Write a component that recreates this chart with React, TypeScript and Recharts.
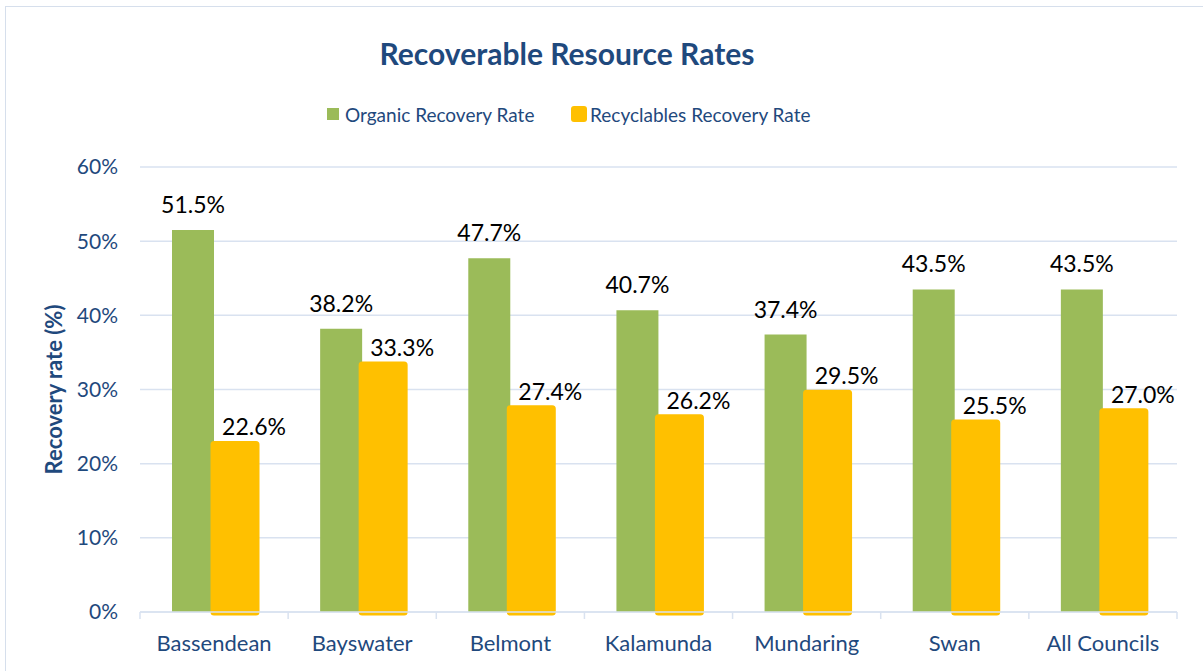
import React from "react";
import { BarChart, Bar, XAxis, YAxis, CartesianGrid, Legend, LabelList } from "recharts";

const councils = ["Bassendean", "Bayswater", "Belmont", "Kalamunda", "Mundaring", "Swan", "All Councils"];
const organicRate = [51.5, 38.2, 47.7, 40.7, 37.4, 43.5, 43.5];
const recyclablesRate = [22.6, 33.3, 27.4, 26.2, 29.5, 25.5, 27.0];
const yTicks = [0, 10, 20, 30, 40, 50, 60];

const chartTitle = "Recoverable Resource Rates";
const yAxisTitle = "Recovery rate (%)";
const organicName = "Organic Recovery Rate";
const recyclablesName = "Recyclables Recovery Rate";

const GREEN = "#9BBB59";
const ORANGE = "#FFC000";
const NAVY = "#1F497D";
const GRID = "#D9E2F0";
const FONT = "Lato, 'Open Sans', sans-serif";
const X_TICK_MARGIN = 17;

const data = councils.map((name, i) => ({
  name,
  organic: organicRate[i],
  recyclables: recyclablesRate[i],
}));

// tick marks sit between categories, like the Excel original
const renderXTick = (props: any) => {
  const { x, y, payload, index, visibleTicksCount } = props;
  const half = payload.offset ?? 74;
  const axisY = y - X_TICK_MARGIN - 6;
  const isLast = index === visibleTicksCount - 1;
  return (
    <g>
      <line x1={x - half} x2={x - half} y1={axisY} y2={axisY + 7} stroke={GRID} strokeWidth={1.5} />
      {isLast && <line x1={x + half} x2={x + half} y1={axisY} y2={axisY + 7} stroke={GRID} strokeWidth={1.5} />}
      <text x={x} y={y} dy="0.71em" textAnchor="middle" fill={NAVY} fontSize={22} fontFamily={FONT}>
        {payload.value}
      </text>
    </g>
  );
};

const renderYLabel = (props: any) => {
  const vb = props.viewBox;
  const cy = vb.y + vb.height / 2;
  return (
    <text
      x={53}
      y={cy}
      transform={`rotate(-90 53 ${cy})`}
      textAnchor="middle"
      dominantBaseline="central"
      fill={NAVY}
      fontSize={22}
      fontWeight="bold"
      fontFamily={FONT}
    >
      {yAxisTitle}
    </text>
  );
};

const makeValueLabel = (dx: number, lift: number) => (props: any) => {
  const vb = props.viewBox ?? props;
  const { x, y, width } = vb;
  return (
    <text
      x={x + width / 2 + dx}
      y={y - lift}
      textAnchor="middle"
      dominantBaseline="central"
      fontSize={23}
      fill="#000"
      fontFamily={FONT}
    >
      {Number(props.value).toFixed(1)}%
    </text>
  );
};

const legendSlots = [
  { box: 327, top: 8, size: 12, radius: 0, text: 345 },
  { box: 571, top: 6, size: 16, radius: 3, text: 590 },
];

const renderLegend = (props: any) => {
  const { payload } = props;
  return (
    <div style={{ position: "relative", width: 1203, height: 30, fontFamily: FONT, fontSize: 19, color: NAVY }}>
      {payload.map((entry: any, i: number) => {
        const s = legendSlots[i];
        return (
          <React.Fragment key={entry.value}>
            <span
              style={{
                position: "absolute",
                left: s.box,
                top: s.top,
                width: s.size,
                height: s.size,
                borderRadius: s.radius,
                background: entry.color,
              }}
            />
            <span style={{ position: "absolute", left: s.text, top: 0, lineHeight: "30px", whiteSpace: "nowrap" }}>
              {entry.value}
            </span>
          </React.Fragment>
        );
      })}
    </div>
  );
};

export default function App() {
  return (
    <div
      style={{
        position: "absolute",
        left: 0,
        top: 0,
        width: 1203,
        height: 671,
        overflow: "hidden",
        background: "#fff",
        fontFamily: FONT,
      }}
    >
      <div
        style={{
          position: "absolute",
          left: 5,
          top: 6,
          width: 1400,
          height: 900,
          border: "1.5px solid #D6DFEC",
        }}
      />
      <div
        style={{
          position: "absolute",
          left: 0,
          top: 30,
          width: 1134,
          textAlign: "center",
          fontSize: 30,
          fontWeight: "bold",
          lineHeight: "46px",
          color: NAVY,
        }}
      >
        {chartTitle}
      </div>
      <BarChart
        width={1203}
        height={671}
        data={data}
        margin={{ top: 167, right: 26, bottom: 0, left: 0 }}
        barSize={42}
        barGap={0}
      >
        <CartesianGrid vertical={false} stroke={GRID} strokeWidth={1.5} />
        <XAxis
          dataKey="name"
          height={59}
          axisLine={{ stroke: GRID, strokeWidth: 1.5 }}
          tickLine={false}
          tickMargin={X_TICK_MARGIN}
          interval={0}
          tick={renderXTick}
        />
        <YAxis
          width={140}
          domain={[0, 60]}
          ticks={yTicks}
          axisLine={false}
          tickLine={false}
          tickMargin={16}
          tickFormatter={(v: number) => `${v}%`}
          tick={{ fill: NAVY, fontSize: 21, fontFamily: FONT }}
          label={renderYLabel}
        />
        <Legend
          layout="horizontal"
          verticalAlign="middle"
          wrapperStyle={{ top: 100, left: 0, width: 1203 }}
          content={renderLegend}
        />
        <Bar dataKey="organic" name={organicName} fill={GREEN} isAnimationActive={false}>
          <LabelList dataKey="organic" content={makeValueLabel(0, 26)} />
        </Bar>
        <Bar
          dataKey="recyclables"
          name={recyclablesName}
          fill={ORANGE}
          stroke={ORANGE}
          strokeWidth={7}
          strokeLinejoin="round"
          isAnimationActive={false}
        >
          <LabelList dataKey="recyclables" content={makeValueLabel(19, 18)} />
        </Bar>
      </BarChart>
    </div>
  );
}
